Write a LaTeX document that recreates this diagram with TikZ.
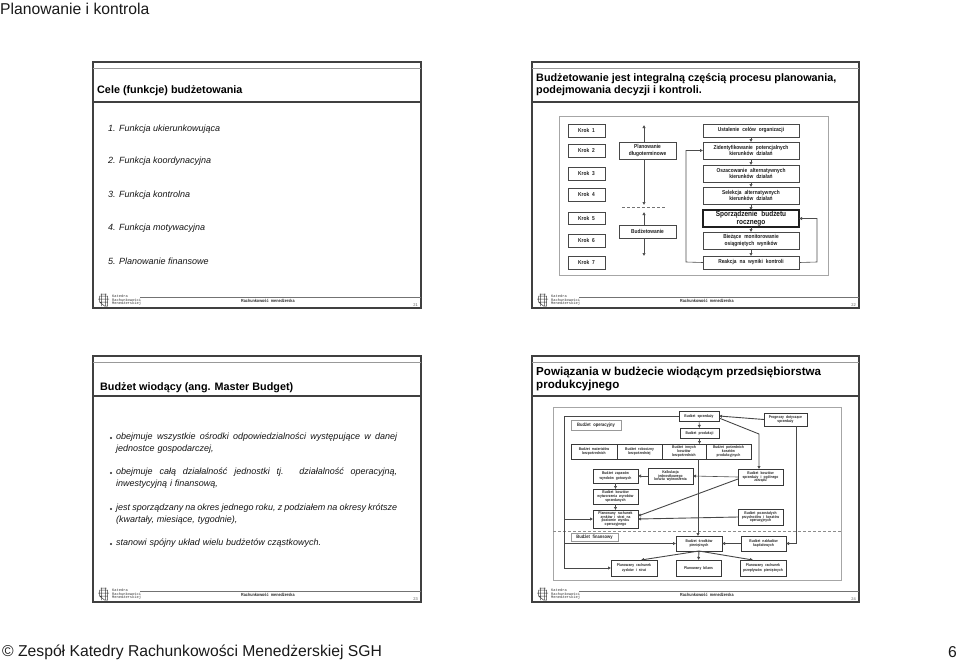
\documentclass[tikz,border=0pt]{standalone}
\usepackage{fontspec}
\setmainfont{Liberation Sans}
\newfontfamily\nar[FakeStretch=0.85,WordSpace=2.2]{Liberation Sans}
\newfontfamily\wid[WordSpace=1.15]{Liberation Sans}
\newfontfamily\mon{Liberation Mono}
\usetikzlibrary{arrows.meta}
\newcommand\fs[1]{\fontsize{#1}{#1}\selectfont}
\newcommand\bx[7]{%
  \pgfmathsetmacro\bw{#5-#3}\pgfmathsetmacro\bh{#6-#4}%
  \pgfmathsetmacro\bcx{(#3+#5)/2}\pgfmathsetmacro\bcy{(#4+#6)/2}%
  \node[#2,minimum width=\bw pt,minimum height=\bh pt] (#1) at (\bcx,\bcy) {#7};}
% name, frame x1, x2, top, grey line, dark line, bottom, page number
\newcommand\slideframe[8]{%
  \draw[frameline] (#2,#4) rectangle (#3,#7);
  \draw[greyline] (#2,#5) -- (#3,#5);
  \draw[frameline] (#2,#6) -- (#3,#6);
  \draw[greythin] (#2+47,#7-10.5) -- (#3,#7-10.5);
  \node[ftxt,anchor=west] (#1k1) at (#2+19,#7-12) {Katedra};
  \node[ftxt,anchor=west] (#1k2) at (#2+19,#7-8) {Rachunkowości};
  \node[ftxt,anchor=west] (#1k3) at (#2+19,#7-4) {Menedżerskiej};
  \node[fmid,anchor=west] (#1m) at (#2+148,#7-7) {Rachunkowość menedżerska};
  \node[fnum,anchor=east] (#1n) at (#3-3,#7-3) {#8};
  \begin{scope}[shift={(#2+10.5,#7-8)}]
    \draw[logoline] (-4,-4) rectangle (4,2) (-2,-6.5) -- (-2,6) (2,-6.5) -- (2,6)
      (-5.5,-1) -- (5.5,-1) (-4,2) -- (1,6) -- (4,6) -- (4,2) (-3,-6) -- (3,-6);
  \end{scope}}
\tikzset{
  x=1pt,y=-1pt,
  frameline/.style={draw=black!75,line width=1.1pt},
  greyline/.style={draw=black!40,line width=.7pt},
  greythin/.style={draw=black!55,line width=.5pt},
  logoline/.style={draw=black!75,line width=.5pt},
  ftxt/.style={inner sep=0,font=\mon\fs{3.7},text=black!80},
  fmid/.style={inner sep=0,font=\nar\bfseries\fs{4.4},text=black!85},
  fnum/.style={inner sep=0,font=\fs{4},text=black!65},
  head/.style={inner sep=0,font=\fs{15.7},text=black!90},
  ttl/.style={inner sep=0,anchor=north west,align=left,font=\bfseries\fs{10.8},text=black},
  lst/.style={inner sep=0,anchor=west,font=\itshape\fs{9},text=black!92},
  bul/.style={inner sep=0,anchor=north west,text width=281pt,align=justify,
    font={\wid\itshape\fontsize{9}{11.3}\selectfont\hyphenpenalty=10000\exhyphenpenalty=10000},text=black!92},
  sbox/.style={draw=black!72,line width=.65pt,inner sep=0,outer sep=0,align=center,font=\nar\bfseries\fs{5.7},text=black!88},
  heavy/.style={sbox,draw=black!88,line width=1.1pt,font=\nar\bfseries\fs{7.6},text=black!92},
  tbox/.style={draw=black!78,line width=.75pt,inner sep=0,outer sep=0,align=center,font=\nar\bfseries\fs{3.9},text=black!85},
  tboxl/.style={tbox,draw=black!40,line width=.6pt,font=\nar\bfseries\fs{4.8}},
  con/.style={draw=black!70,line width=.6pt,-{Latex[length=3pt,width=3.4pt]}},
  conb/.style={draw=black!72,line width=.9pt,-{Latex[length=3pt,width=3.4pt]}},
  outerbox/.style={draw=black!35,line width=.8pt},
}
\begin{document}
\begin{tikzpicture}
\useasboundingbox (0,0) rectangle (959,662);
\node[head,anchor=west] (hd) at (0,8.5) {Planowanie i kontrola};
\node[head,anchor=west] (ft) at (2,652) {© Zespół Katedry Rachunkowości Menedżerskiej SGH};
\node[head,anchor=east] (pg) at (957,652) {6};

\slideframe{a}{93}{421}{62}{68}{102}{308}{21}
\slideframe{b}{532}{859}{62}{68}{102}{308}{22}
\slideframe{c}{93}{421}{356}{362}{396}{602}{23}
\slideframe{d}{532}{859}{356}{362}{396}{602}{24}

% slide 1
\node[ttl,anchor=west] (t1) at (97,90.5) {Cele (funkcje) budżetowania};
\node[lst] (n1) at (108,129) {1.\hspace{3.5pt}Funkcja ukierunkowująca};
\node[lst] (n2) at (108,161) {2.\hspace{3.5pt}Funkcja koordynacyjna};
\node[lst] (n3) at (108,195) {3.\hspace{3.5pt}Funkcja kontrolna};
\node[lst] (n4) at (108,228) {4.\hspace{3.5pt}Funkcja motywacyjna};
\node[lst] (n5) at (108,261) {5.\hspace{3.5pt}Planowanie finansowe};

% slide 2
\node[ttl] (t2) at (536,73.5) {Budżetowanie jest integralną częścią procesu planowania,\\[1.4pt]podejmowania decyzji i kontroli.};
\draw[outerbox] (559,116.5) rectangle (828,275);
\bx{k1}{sbox}{568}{124}{605}{137}{Krok 1}
\bx{k2}{sbox}{568}{144}{605}{157}{Krok 2}
\bx{k3}{sbox}{568}{167}{605}{180}{Krok 3}
\bx{k4}{sbox}{568}{188}{605}{201}{Krok 4}
\bx{k5}{sbox}{568}{212}{605}{224}{Krok 5}
\bx{k6}{sbox}{568}{234}{605}{247}{Krok 6}
\bx{k7}{sbox}{568}{256}{605}{269}{Krok 7}
\bx{pl}{sbox}{619}{142}{676}{159}{Planowanie\\[1pt]długoterminowe}
\bx{bu}{sbox}{619}{225}{676}{238}{Budżetowanie}
\bx{r1}{sbox}{703}{124}{799}{137}{Ustalenie celów organizacji}
\bx{r2}{sbox}{703}{142}{799}{159}{Zidentyfikowanie potencjalnych\\[1pt]kierunków działań}
\bx{r3}{sbox}{703}{165}{799}{182}{Oszacowanie alternatywnych\\[1pt]kierunków działań}
\bx{r4}{sbox}{703}{187}{799}{204}{Selekcja alternatywnych\\[1pt]kierunków działań}
\bx{r5}{heavy}{703}{210}{799}{227}{Sporządzenie budżetu\\[.5pt]rocznego}
\bx{r6}{sbox}{703}{232}{799}{249}{Bieżące monitorowanie\\[1pt]osiągniętych wyników}
\bx{r7}{sbox}{703}{256}{799}{269}{Reakcja na wyniki kontroli}
\coordinate (pu) at (644,125);
\coordinate (pd) at (644,205);
\coordinate (bt) at (644,212);
\coordinate (bd) at (644,256);
\coordinate (dl) at (622,207);
\coordinate (dr) at (666,207);
\draw[con] (pu |- pl.north) -- (pu);
\draw[con] (pd |- pl.south) -- (pd);
\draw[con] (bt |- bu.north) -- (bt);
\draw[con] (bd |- bu.south) -- (bd);
\draw[draw=black!55,line width=.5pt,densely dashed] (dl) -- (dr);
\foreach \p/\q in {r1/r2,r2/r3,r3/r4,r4/r5,r5/r6,r6/r7} \draw[con] (\p.south) -- (\q.north);
\coordinate (ll) at (686,262);
\coordinate (rr) at (817,262);
\draw[con] (r7.west) -- (ll) |- (r2.west);
\draw[con] (r7.east) -- (rr) |- (r5.east);

% slide 3
\node[ttl,anchor=west] (t3) at (100,388) {Budżet wiodący (ang. Master Budget)};
\node[bul] (b1) at (116,433) {obejmuje wszystkie ośrodki odpowiedzialności występujące w danej jednostce gospodarczej,};
\node[bul] (b2) at (116,468) {obejmuje całą działalność jednostki tj. działalność operacyjną, inwestycyjną i finansową,};
\node[bul] (b3) at (116,504) {jest sporządzany na okres jednego roku, z podziałem na okresy krótsze (kwartały, miesiące, tygodnie),};
\node[bul] (b4) at (116,539) {stanowi spójny układ wielu budżetów cząstkowych.};
\foreach \y in {438,473,509,544}
  \fill[black!85] (111,\y) circle (1.1);

% slide 4
\node[ttl,font=\bfseries\fs{11.6}] (t4) at (536,367) {Powiązania w budżecie wiodącym przedsiębiorstwa\\[1.4pt]produkcyjnego};
\draw[outerbox] (553,407) rectangle (841,580);
\draw[draw=black!45,line width=.5pt,densely dashed] (553,531) -- (841,531);
\bx{sp}{tbox}{679}{411}{719}{421}{Budżet sprzedaży}
\bx{pr}{tbox}{764}{413}{807}{426}{Prognozy dotyczące\\sprzedaży}
\bx{op}{tboxl}{571}{420}{621}{430}{Budżet operacyjny}
\bx{pd2}{tbox}{680}{428}{719}{438}{Budżet produkcji}
\bx{q1}{tbox}{571}{444}{617}{459}{Budżet materiałów\\[.6pt]bezpośrednich}
\bx{q2}{tbox}{617}{444}{662}{459}{Budżet robocizny\\[.6pt]bezpośredniej}
\bx{q3}{tbox}{662}{444}{706}{459}{Budżet innych\\kosztów\\bezpośrednich}
\bx{q4}{tbox}{706}{444}{751}{459}{Budżet pośrednich\\kosztów\\produkcyjnych}
\bx{kal}{tbox}{648}{468}{693}{484}{Kalkulacja\\jednostkowego\\kosztu wytworzenia}
\bx{zap}{tbox}{593}{469}{638}{483}{Budżet zapasów\\[.6pt]wyrobów gotowych}
\bx{wyt}{tbox}{593}{489}{638}{504}{Budżet kosztów\\wytworzenia wyrobów\\sprzedanych}
\bx{kos}{tbox}{738}{469}{783}{485}{Budżet kosztów\\sprzedaży i ogólnego\\zarządu}
\bx{rzw}{tbox}{593}{510}{638}{528}{Planowany rachunek\\zysków i strat na\\poziomie wyniku\\operacyjnego}
\bx{poz}{tbox}{738}{509}{783}{525}{Budżet pozostałych\\przychodów i kosztów\\operacyjnych}
\bx{fin}{tboxl}{571}{533}{618}{541}{Budżet finansowy}
\bx{bsp}{tbox}{676}{536}{722}{551}{Budżet środków\\[.6pt]pieniężnych}
\bx{bnk}{tbox}{741}{536}{786}{551}{Budżet nakładów\\[.6pt]kapitałowych}
\bx{rzs}{tbox}{611}{560}{657}{576}{Planowany rachunek\\[.6pt]zysków i strat}
\bx{bil}{tbox}{676}{560}{721}{576}{Planowany bilans}
\bx{prz}{tbox}{740}{560}{786}{576}{Planowany rachunek\\[.6pt]przepływów pieniężnych}
\coordinate (lt) at (564,416);
\coordinate (pv) at (796,426);
\coordinate (cv) at (698,459);
\coordinate (kn) at (759,434);
\coordinate (ks) at (719,418);
\coordinate (kd) at (738,479);
\coordinate (rd) at (638,516);
\coordinate (rs1) at (641,560);
\coordinate (rs2) at (753,560);
\draw[conb] (sp.west) -- (lt) |- (rzs.west);
\draw[conb] (lt) |- (rzw.west);
\draw[conb] (lt) |- (bsp.west);
\draw[con] (sp.south) -- (pd2.north);
\draw[con] (pd2.south) -- (pd2.south |- q1.north);
\draw[conb] (pr.west) -- (sp.east);
\draw[conb] (ks) -- (kn) -- (kn |- kos.north);
\draw[conb] (pv) |- (bnk.east);
\draw[conb] (bnk.west) -- (bsp.east);
\draw[conb] (cv) -- (cv |- bsp.north);
\draw[con] (kos.west) -- (kal.east);
\draw[con] (kal.west) -- (zap.east);
\draw[con] (zap.south) -- (wyt.north);
\draw[con] (wyt.south) -- (rzw.north);
\draw[conb] (kd) -- (rd);
\draw[conb] (poz.west) -- (rzw.east);
\draw[conb] (bsp.south) -- (rs1);
\draw[conb] (bsp.south) -- (rs2);
\draw[conb] (bsp.south) -- (bil.north);
\end{tikzpicture}
\end{document}
